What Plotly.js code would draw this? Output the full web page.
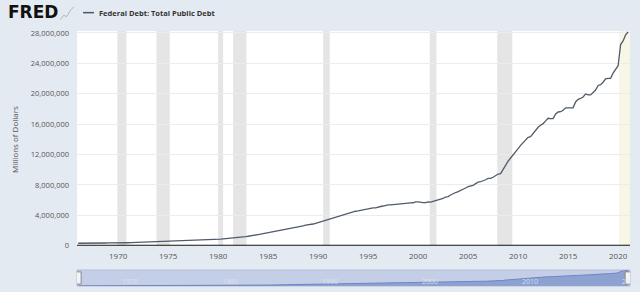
<!DOCTYPE html>
<html>
<head>
<meta charset="utf-8">
<script src="https://cdn.plot.ly/plotly-3.0.1.min.js"></script>
<style>
  html, body { margin: 0; padding: 0; background: #e4eaf1; }
  #chart { width: 640px; height: 292px; }
</style>
</head>
<body>
<div id="chart"></div>
<script>
// Federal Debt: Total Public Debt, millions of dollars, quarterly from 1966 Q1
const startYear = 1966;
const debtValues = [
  320999, 316097, 324748, 329319,
  330947, 322893, 336935, 344663,
  349356, 347578, 358029, 358991,
  362018, 353720, 362070, 368226,
  372007, 370919, 381000, 389158,
  390603, 398130, 410292, 424131,
  428576, 427260, 436453, 449298,
  457317, 458142, 462047, 469898,
  474235, 475060, 481500, 492665,
  509690, 533189, 553649, 576649,
  599675, 620433, 634701, 653544,
  680000, 685200, 709100, 729200,
  758400, 771500, 780400, 789200,
  796800, 804900, 826500, 845100,
  863300, 877600, 907700, 930200,
  964500, 971200, 997900, 1028700,
  1061300, 1079600, 1142000, 1197100,
  1244500, 1319600, 1377200, 1410700,
  1463700, 1512700, 1572300, 1663000,
  1710700, 1774600, 1823100, 1945900,
  1986800, 2059300, 2125300, 2214800,
  2246700, 2309300, 2350300, 2435200,
  2493200, 2547700, 2602300, 2707300,
  2739900, 2793000, 2857400, 2953000,
  3052000, 3143800, 3233300, 3364800,
  3465200, 3538000, 3665300, 3801700,
  3881300, 3984700, 4064600, 4177000,
  4230600, 4352000, 4411500, 4535700,
  4575900, 4645800, 4692800, 4800200,
  4864100, 4951400, 4973900, 4988700,
  5117800, 5161100, 5224800, 5323200,
  5380900, 5376200, 5413100, 5502400,
  5542400, 5547900, 5526200, 5614200,
  5651600, 5638800, 5656300, 5776100,
  5773400, 5685900, 5674200, 5662200,
  5773700, 5726800, 5807500, 5943400,
  6006000, 6126500, 6228200, 6405700,
  6460800, 6670100, 6783200, 6997900,
  7131100, 7274300, 7379100, 7596100,
  7776900, 7836500, 7932700, 8170400,
  8371200, 8420000, 8507000, 8680200,
  8849700, 8867700, 9007700, 9229200,
  9437600, 9492000, 10024700, 10699800,
  11126900, 11545300, 11909800, 12311400,
  12773100, 13201800, 13561600, 14025200,
  14270000, 14343100, 14790300, 15222900,
  15582100, 15855500, 16066200, 16432700,
  16771400, 16738200, 16738200, 17352000,
  17601200, 17632600, 17824100, 18141400,
  18152100, 18151900, 18150600, 18922200,
  19264900, 19381600, 19573400, 19976800,
  19846400, 19844600, 20244900, 20492900,
  21089100, 21195200, 21516100, 21974100,
  22027900, 22023300, 22719400, 23201400,
  23686900, 26477200, 26945400, 27747800,
  28132600
];
const recessionStarts = ['1969-12-01', '1973-11-01', '1980-01-01', '1981-07-01', '1990-07-01', '2001-03-01', '2007-12-01'];
const recessionEnds   = ['1970-11-01', '1975-03-01', '1980-07-01', '1982-11-01', '1991-03-01', '2001-11-01', '2009-06-01'];
const lastRecessionStart = '2020-02-01';
const yTicks = [0, 4000000, 8000000, 12000000, 16000000, 20000000, 24000000, 28000000];
const yTickText = ['0', '4,000,000', '8,000,000', '12,000,000', '16,000,000', '20,000,000', '24,000,000', '28,000,000'];
const xTickYears = ['1970', '1975', '1980', '1985', '1990', '1995', '2000', '2005', '2010', '2015', '2020'];
const navTickYears = ['1970', '1980', '1990', '2000', '2010', '2020'];
const seriesName = 'Federal Debt: Total Public Debt';

const dates = debtValues.map((v, i) => {
  const y = startYear + Math.floor(i / 4);
  const m = (i % 4) * 3 + 1;
  return y + '-' + String(m).padStart(2, '0') + '-01';
});

const xRange = ['1965-11-20', '2021-03-10'];
const font = "'Open Sans', 'DejaVu Sans', sans-serif";

const traces = [
  {
    x: dates, y: debtValues, type: 'scatter', mode: 'lines',
    line: { color: '#505c6a', width: 1.3 },
    xaxis: 'x', yaxis: 'y', showlegend: false, hoverinfo: 'skip'
  },
  {
    x: dates, y: debtValues, type: 'scatter', mode: 'lines',
    fill: 'tozeroy', fillcolor: '#8ea2d2',
    line: { color: '#6e86c2', width: 1 },
    xaxis: 'x2', yaxis: 'y2', showlegend: false, hoverinfo: 'skip'
  }
];

const shapes = [];
recessionStarts.forEach((s, i) => {
  shapes.push({
    type: 'rect', xref: 'x', yref: 'y domain', x0: s, x1: recessionEnds[i], y0: 0, y1: 1,
    fillcolor: '#e5e5e5', line: { width: 0 }, layer: 'below'
  });
});
shapes.push({
  type: 'rect', xref: 'x', yref: 'y domain', x0: lastRecessionStart, x1: xRange[1], y0: 0, y1: 1,
  fillcolor: '#f8f6e6', line: { width: 0 }, layer: 'below'
});
// x axis baseline
shapes.push({
  type: 'line', xref: 'x domain', yref: 'y', x0: 0, x1: 1, y0: 0, y1: 0,
  line: { color: '#111111', width: 2 }
});
// legend sample line
shapes.push({
  type: 'line', xref: 'paper', yref: 'paper', x0: 0.0109, x1: 0.0307, y0: 1.072, y1: 1.072,
  line: { color: '#4b5866', width: 1.5 }
});
// navigator background
shapes.push({
  type: 'rect', xref: 'x2 domain', yref: 'y2 domain', x0: 0, x1: 1, y0: 0, y1: 1,
  line: { color: '#b4c0d8', width: 1 }, fillcolor: '#c4cee6', layer: 'below'
});
// navigator handles
[dates[0], dates[dates.length - 1]].forEach(d => {
  shapes.push({
    type: 'rect', xref: 'x2', yref: 'y2 domain', xsizemode: 'pixel', xanchor: d,
    x0: -3, x1: 3, y0: 0.12, y1: 0.88,
    fillcolor: '#f4f4f4', line: { color: '#8a8a8a', width: 1 }
  });
});
// small FRED logo chart icon
shapes.push({
  type: 'path', xref: 'paper', yref: 'paper',
  path: 'M -0.0300 1.045 L -0.0240 1.062 L -0.0190 1.056 L -0.0120 1.080 L -0.0060 1.095',
  line: { color: '#a9bfa4', width: 1 }
});

const annotations = [
  {
    text: 'FRED', xref: 'paper', yref: 'paper', x: -0.128, y: 1.075,
    xanchor: 'left', yanchor: 'middle', showarrow: false,
    font: { family: "'DejaVu Sans', sans-serif", size: 17, weight: 900, color: '#111111' }
  },
  {
    text: '<b>' + seriesName + '</b>', xref: 'paper', yref: 'paper', x: 0.0355, y: 1.072,
    xanchor: 'left', yanchor: 'middle', showarrow: false,
    font: { family: font, size: 7.5, color: '#333333' }
  },
  {
    text: 'Millions of Dollars', xref: 'paper', yref: 'paper', x: -0.113, y: 0.575,
    xanchor: 'center', yanchor: 'middle', textangle: -90, showarrow: false,
    font: { family: font, size: 8, color: '#555555' }
  }
];
navTickYears.forEach(y => {
  annotations.push({
    text: y, xref: 'x2', yref: 'y2 domain', x: y + '-01-01', y: 0.3,
    xanchor: 'left', yanchor: 'middle', xshift: 2, showarrow: false,
    font: { family: font, size: 7, color: 'rgba(225,230,240,0.85)' }
  });
});

const layout = {
  width: 640, height: 292,
  margin: { l: 77, r: 10, t: 31, b: 6 },
  paper_bgcolor: '#e4eaf1',
  plot_bgcolor: '#ffffff',
  font: { family: font, color: '#555555', size: 8 },
  showlegend: false,
  xaxis: {
    type: 'date', range: xRange, domain: [0, 1],
    tickvals: xTickYears.map(y => y + '-01-01'), ticktext: xTickYears,
    showgrid: false, zeroline: false, showline: false, ticks: '',
    tickfont: { size: 8, color: '#555555' }, ticklabelstandoff: 4,
    anchor: 'y', fixedrange: true
  },
  yaxis: {
    range: [0, 28260000], domain: [0.158, 1],
    tickvals: yTicks, ticktext: yTickText,
    showgrid: true, gridcolor: '#ececec', gridwidth: 1,
    zeroline: false, showline: false, ticks: '',
    tickfont: { size: 7.5, color: '#555555' }, ticklabelstandoff: 7,
    anchor: 'x', fixedrange: true
  },
  xaxis2: {
    type: 'date', range: xRange, domain: [0, 1], anchor: 'y2',
    showgrid: false, zeroline: false, showline: false, ticks: '',
    showticklabels: false, fixedrange: true
  },
  yaxis2: {
    range: [0, 29000000], domain: [0, 0.063], anchor: 'x2',
    showgrid: false, zeroline: false, showticklabels: false, ticks: '', fixedrange: true
  },
  shapes: shapes,
  annotations: annotations
};

Plotly.newPlot('chart', traces, layout, { staticPlot: true, displayModeBar: false });
</script>
</body>
</html>
